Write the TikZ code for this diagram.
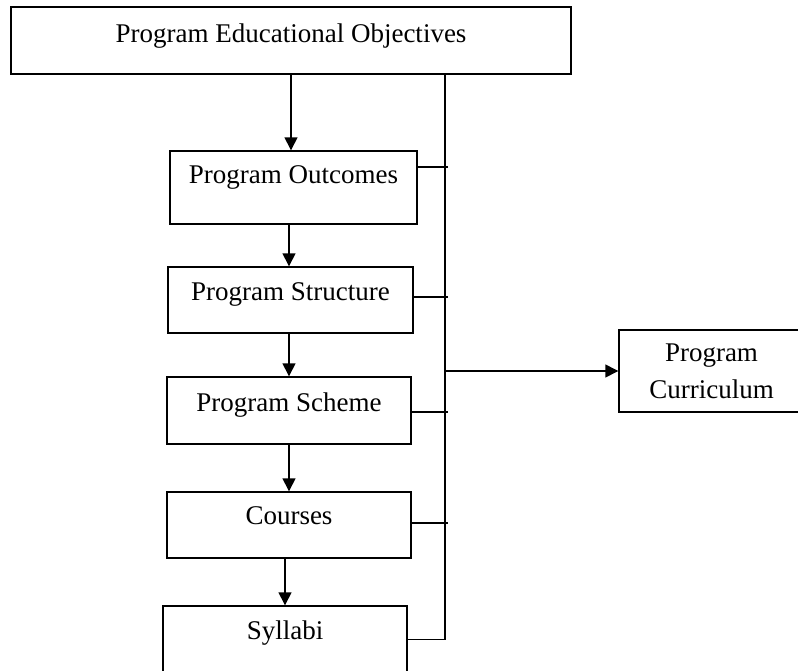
\documentclass[tikz,border=0pt]{standalone}
\usepackage{fontspec}
\setmainfont{Liberation Serif}
\usepackage{tikz}
\usetikzlibrary{arrows.meta,positioning}
\tikzstyle{arrow} = [line width=1.4pt,-{Triangle[width=13pt,length=13pt]}]
\tikzstyle{link} = [line width=1.4pt]
\tikzstyle{stagebox} = [rectangle, draw, line width=1.4pt, inner sep=0pt, text centered, text height=18pt, text depth=17pt, font=\fontsize{27}{37}\selectfont]
\begin{document}
\begin{tikzpicture}[x=1pt, y=-1pt]
\useasboundingbox (0,0) rectangle (798,670);
\clip (0,0) rectangle (798,670);
% Boxes
\node[stagebox, minimum width=560pt, minimum height=67pt, text depth=15pt] (peo) at (291,40.5) {Program Educational Objectives};
\node[stagebox, minimum width=247pt, minimum height=73pt, text depth=27pt] (po) at (293.5,187.5) {Program Outcomes};
\node[stagebox, minimum width=245pt, minimum height=66pt] (ps) at (290.5,300) {Program Structure};
\node[stagebox, minimum width=244pt, minimum height=67pt] (psc) at (289,410.5) {Program Scheme};
\node[stagebox, minimum width=244pt, minimum height=66pt, text depth=19pt] (co) at (289,525) {Courses};
\node[stagebox, minimum width=244pt, minimum height=67pt, text depth=18pt] (sy) at (285,639.5) {Syllabi};
\node[rectangle, draw, line width=1.4pt, inner sep=0pt, minimum width=185pt, minimum height=82pt, align=center, font=\fontsize{27}{37}\selectfont] (pc) at (711.5,371) {Program\\Curriculum};

% Guide lines
\coordinate (spine) at (289,0);
\coordinate (bus) at (445,0);
\coordinate (stubend) at (448,0);

% Downward arrows
\draw[arrow] (peo.south) -- (peo.south |- po.north);
\draw[arrow] (po.south -| spine) -- (ps.north -| spine);
\draw[arrow] (ps.south -| spine) -- (psc.north -| spine);
\draw[arrow] (psc.south -| spine) -- (co.north -| spine);
\draw[arrow] (co.south -| sy.north) -- (sy.north);

% Bus to curriculum
\draw[link] (peo.south -| bus) -- (sy.east -| bus) -- (sy.east);
\draw[link] ([yshift=20.5pt]po.east) -- ([yshift=20.5pt]po.east -| stubend);
\draw[link] ([yshift=3pt]ps.east) -- ([yshift=3pt]ps.east -| stubend);
\draw[link] ([yshift=-1.5pt]psc.east) -- ([yshift=-1.5pt]psc.east -| stubend);
\draw[link] ([yshift=2pt]co.east) -- ([yshift=2pt]co.east -| stubend);
\draw[arrow] (pc.west -| bus) -- (pc.west);
\end{tikzpicture}
\end{document}
